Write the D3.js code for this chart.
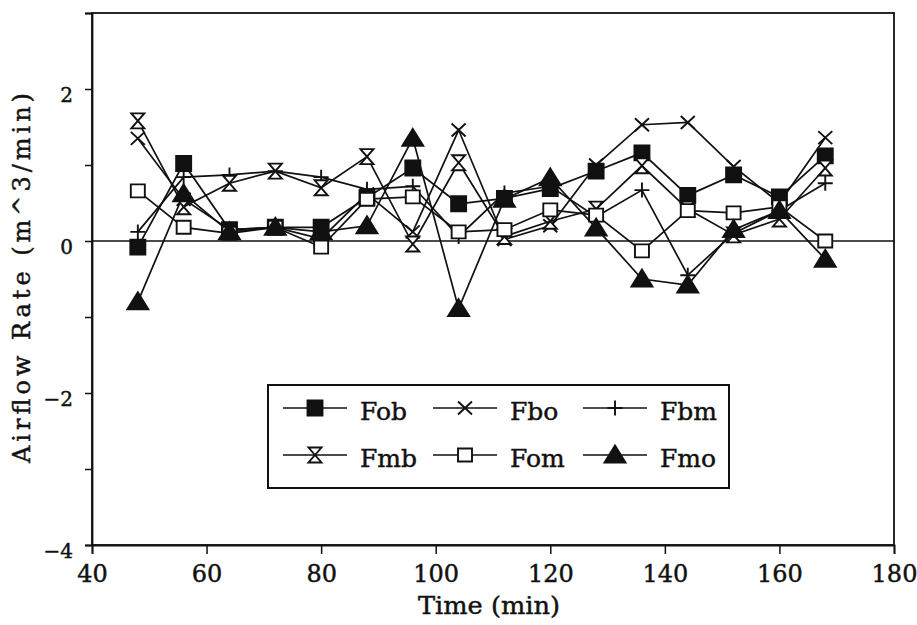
<!DOCTYPE html>
<html>
<head>
<meta charset="utf-8">
<script src="https://cdn.jsdelivr.net/npm/d3@7"></script>
<style>
  body { margin: 0; background: #fff; }
  text { font-family: "DejaVu Serif", serif; fill: #111; stroke: #111; stroke-width: 0.45px; }
</style>
</head>
<body>
<div id="chart"></div>
<script>
const times = [48, 56, 64, 72, 80, 88, 96, 104, 112, 120, 128, 136, 144, 152, 160, 168];

const fob = [-0.08, 1.02, 0.15, 0.18, 0.18, 0.57, 0.96, 0.49, 0.56, 0.69, 0.92, 1.16, 0.6, 0.87, 0.58, 1.12];
const fbo = [1.35, 0.55, 0.15, 0.18, 0.03, 0.62, 0.12, 1.46, 0.02, 0.2, 1.0, 1.53, 1.56, 0.98, 0.5, 1.36];
const fbm = [0.12, 0.84, 0.87, 0.92, 0.84, 0.68, 0.72, 0.06, 0.63, 0.72, 0.32, 0.67, -0.45, 0.1, 0.4, 0.76];
const fmb = [1.58, 0.45, 0.76, 0.92, 0.7, 1.11, -0.04, 1.03, 0.06, 0.26, 0.42, 0.99, 0.42, 0.08, 0.29, 0.96];
const fom = [0.66, 0.18, 0.1, 0.18, -0.08, 0.55, 0.58, 0.12, 0.15, 0.41, 0.34, -0.13, 0.4, 0.37, 0.45, 0.0];
const fmo = [-0.8, 0.62, 0.12, 0.18, 0.12, 0.2, 1.35, -0.89, 0.55, 0.83, 0.17, -0.5, -0.58, 0.15, 0.4, -0.24];

const seriesNames = ["Fob", "Fbo", "Fbm", "Fmb", "Fom", "Fmo"];
const seriesValues = [fob, fbo, fbm, fmb, fom, fmo];

const xTicks = [40, 60, 80, 100, 120, 140, 160, 180];
const yTicks = [-4, -2, 0, 2];

const width = 917, height = 625;
const plot = { left: 92, right: 894, top: 13, bottom: 545 };

const svg = d3.select("#chart").append("svg")
  .attr("width", width)
  .attr("height", height);

const x = d3.scaleLinear().domain([40, 180]).range([plot.left, plot.right]);
const y = d3.scaleLinear().domain([-4, 3]).range([plot.bottom, plot.top]);

// marker shapes
const shapes = {
  Fob: { d: "M-7.5,-7.5H7.5V7.5H-7.5Z", fill: "#111" },
  Fbo: { d: "M-7,-6.5L7,6.5M-7,6.5L7,-6.5", fill: "none" },
  Fbm: { d: "M-7.5,0H7.5M0,-7.5V7.5", fill: "none" },
  Fmb: { d: "M-6.5,-7.5H6.5L-6.5,7.5H6.5Z", fill: "#fff" },
  Fom: { d: "M-7,-6.5H7V6.5H-7Z", fill: "#fff" },
  Fmo: { d: "M0,-9.5L10.5,7.5H-10.5Z", fill: "#111" }
};

// frame
svg.append("rect")
  .attr("x", plot.left).attr("y", plot.top)
  .attr("width", plot.right - plot.left).attr("height", plot.bottom - plot.top)
  .attr("fill", "none").attr("stroke", "#111").attr("stroke-width", 1.8);

// zero line
svg.append("line")
  .attr("x1", plot.left).attr("x2", plot.right)
  .attr("y1", y(0)).attr("y2", y(0))
  .attr("stroke", "#111").attr("stroke-width", 1.6);

// axes
const xAxis = svg.append("g")
  .attr("transform", `translate(0,${plot.bottom})`)
  .call(d3.axisBottom(x).tickValues(xTicks).tickSize(9).tickPadding(11));
xAxis.selectAll("text").attr("font-size", 24);

const yAxis = svg.append("g")
  .attr("transform", `translate(${plot.left},0)`)
  .call(d3.axisLeft(y).ticks(7).tickSize(7).tickPadding(12)
    .tickFormat(d => yTicks.includes(d) ? d3.format("d")(d) : ""));
yAxis.selectAll("text").attr("font-size", 20).attr("dy", "0.62em");

[xAxis, yAxis].forEach(a => {
  a.attr("font-family", null);
  a.select(".domain").attr("stroke", "#111").attr("stroke-width", 1.8);
  a.selectAll(".tick line").attr("stroke", "#111").attr("stroke-width", 1.5);
  a.selectAll("text").attr("fill", "#111");
});

svg.append("text")
  .attr("x", 489)
  .attr("y", 614)
  .attr("text-anchor", "middle")
  .attr("font-size", 24)
  .attr("textLength", 142)
  .attr("lengthAdjust", "spacingAndGlyphs")
  .text("Time (min)");

svg.append("text")
  .attr("transform", "translate(30,278) rotate(-90)")
  .attr("text-anchor", "middle")
  .attr("font-size", 24)
  .attr("textLength", 370)
  .attr("lengthAdjust", "spacing")
  .text("Airflow Rate (m^3/min)");

// lines
const line = d3.line().x(d => x(d[0])).y(d => y(d[1]));

seriesNames.forEach((name, i) => {
  const pts = times.map((t, j) => [t, seriesValues[i][j]]);
  svg.append("path")
    .datum(pts)
    .attr("d", line)
    .attr("fill", "none")
    .attr("stroke", "#111")
    .attr("stroke-width", 1.7);
});

// markers
seriesNames.forEach((name, i) => {
  const s = shapes[name];
  svg.append("g").selectAll("path")
    .data(times.map((t, j) => [t, seriesValues[i][j]]))
    .join("path")
    .attr("transform", d => `translate(${x(d[0])},${y(d[1])})`)
    .attr("d", s.d)
    .attr("fill", s.fill)
    .attr("stroke", "#111")
    .attr("stroke-width", 1.9);
});

// legend
const legend = svg.append("g");
legend.append("rect")
  .attr("x", 268).attr("y", 385)
  .attr("width", 461).attr("height", 103)
  .attr("fill", "#fff").attr("stroke", "#111").attr("stroke-width", 2);

const colX = [283, 433, 583];
const rowY = [408, 455];
seriesNames.forEach((name, i) => {
  const cx = colX[i % 3], cy = rowY[Math.floor(i / 3)];
  const item = legend.append("g").attr("transform", `translate(${cx},${cy})`);
  item.append("line")
    .attr("x1", 0).attr("x2", 64)
    .attr("stroke", "#111").attr("stroke-width", 1.6);
  const s = shapes[name];
  item.append("path")
    .attr("transform", "translate(32,0)")
    .attr("d", s.d)
    .attr("fill", s.fill)
    .attr("stroke", "#111")
    .attr("stroke-width", 1.9);
  item.append("text")
    .attr("x", 77).attr("y", 12)
    .attr("font-size", 25)
    .text(name);
});
</script>
</body>
</html>
